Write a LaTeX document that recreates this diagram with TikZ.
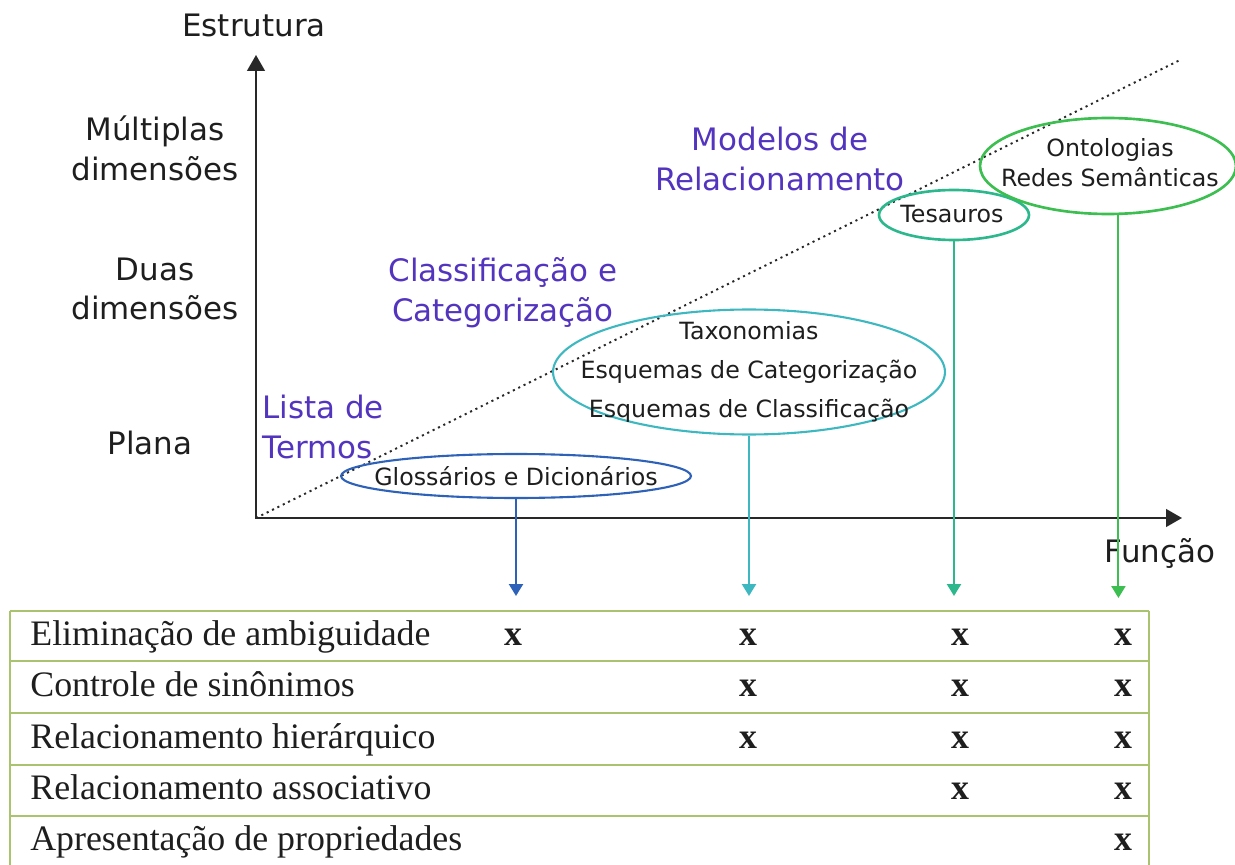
\documentclass[tikz,border=0pt]{standalone}
\usepackage{fontspec}
\setmainfont{Liberation Serif}
\newfontfamily\diagramFont{DejaVu Sans}
\usepackage{tikz}
\usetikzlibrary{arrows.meta,shapes.geometric}
\usepackage{xcolor}
\definecolor{relPurple}{RGB}{82,52,190}
\definecolor{glossBlue}{RGB}{46,98,184}
\definecolor{taxoTeal}{RGB}{62,184,192}
\definecolor{tesaTeal}{RGB}{44,184,140}
\definecolor{ontoGreen}{RGB}{60,190,80}
\definecolor{tableGreen}{RGB}{170,195,110}
\definecolor{axisGray}{RGB}{40,40,40}
\definecolor{textGray}{RGB}{30,30,30}
\newcommand{\labelFont}{\diagramFont\fontsize{17.6}{22.7}\selectfont}
\newcommand{\itemFont}{\diagramFont\fontsize{13.5}{22.4}\selectfont}
\newcommand{\tableFont}{\fontsize{20.4}{24}\selectfont}
\newcommand{\tableLeft}{10}
\newcommand{\tableRight}{1149}
\newcommand{\tableBottom}{865}

\begin{document}
\begin{tikzpicture}[x=0.02cm, y=-0.02cm,
      axisline/.style={draw=axisGray, line width=1.2pt},
      axislabel/.style={font=\labelFont, text=textGray, inner sep=0pt},
      grouplabel/.style={font=\labelFont, text=relPurple, inner sep=0pt},
      oval/.style={ellipse, draw, line width=1.2pt, inner sep=0pt},
      ovaltext/.style={font=\itemFont, text=textGray, align=center, inner sep=0pt},
      feed/.style={line width=1.1pt, -{Triangle[width=8pt,length=6.8pt]}},
      tableline/.style={draw=tableGreen, line width=1pt},
      rowtext/.style={font=\tableFont, text=textGray, anchor=base west, inner sep=0pt},
      crossmark/.style={font=\tableFont\bfseries, text=textGray, anchor=base, inner sep=0pt}]
   \useasboundingbox (0,0) rectangle (1235,865);

   % axes
   \coordinate (origin) at (256,518);
   \coordinate (ytip) at (256,55);
   \coordinate (xtip) at (1182,518);
   \coordinate (diagEnd) at (1180,60);
   \draw[line width=1.1pt, dash pattern=on 1.2pt off 2.2pt, axisGray] (origin) -- (diagEnd);
   \draw[axisline, {Triangle[width=10pt,length=9pt]}-{Triangle[width=10pt,length=9pt]}] (ytip) |- (xtip);

   \node[axislabel] (estrutura) at (254,25) {Estrutura};
   \node[axislabel] (funcao) at (1160,553) {Função};
   \node[axislabel, align=center] (multi) at (155,148) {Múltiplas\\dimensões};
   \node[axislabel, align=center] (duas) at (155,289) {Duas\\dimensões};
   \node[axislabel] (plana) at (150,443) {Plana};

   \node[grouplabel, align=left, anchor=west] (lista) at (262,427) {Lista de\\Termos};
   \node[grouplabel, align=center] (classif) at (503,293) {Classificação e\\Categorização};
   \node[grouplabel, align=center] (modelos) at (780,159) {Modelos de\\Relacionamento};

   % ellipses
   \node[oval, draw=glossBlue, minimum width=7cm, minimum height=0.88cm] (gloss) at (516,476) {};
   \node[oval, draw=taxoTeal, minimum width=7.84cm, minimum height=2.5cm] (taxo) at (749,372) {};
   \node[oval, draw=tesaTeal, line width=1.5pt, minimum width=3cm, minimum height=1cm] (tesa) at (954,215) {};
   \node[oval, draw=ontoGreen, line width=1.5pt, minimum width=5.12cm, minimum height=1.92cm] (onto) at (1108,166) {};

   \node[ovaltext] (glossText) at (gloss) {Glossários e Dicionários};
   \node[ovaltext] (taxoText) at (taxo) {Taxonomias\\Esquemas de Categorização\\Esquemas de Classificação};
   \node[ovaltext] (tesaText) at (952,214) {Tesauros};
   \node[ovaltext, font=\diagramFont\fontsize{13.5}{17}\selectfont] (ontoText) at (1110,163) {Ontologias\\Redes Semânticas};

   % columns of the table
   \coordinate (colA) at (516,596);
   \coordinate (colB) at (749,596);
   \coordinate (colC) at (954,596);
   \coordinate (colD) at (1118,598);
   \draw[feed, glossBlue] (gloss.south) -- (colA);
   \draw[feed, taxoTeal] (taxo.south) -- (colB);
   \draw[feed, tesaTeal] (tesa.south) -- (colC);
   \draw[feed, ontoGreen] (onto.-78) -- (onto.-78 |- colD);

   % table
   \foreach \y in {611,661,713,765,816}
      \draw[tableline] (\tableLeft,\y) -- (\tableRight,\y);
   \draw[tableline] (\tableLeft,611) -- (\tableLeft,\tableBottom);
   \draw[tableline] (\tableRight,611) -- (\tableRight,\tableBottom);

   \foreach \ry/\txt [count=\i] in {645/Eliminação de ambiguidade,696/Controle de sinônimos,748/Relacionamento hierárquico,799/Relacionamento associativo,850/Apresentação de propriedades}
      \node[rowtext] (row\i) at (30,\ry) {\txt};

   \foreach \cx/\ry [count=\i] in {513/645,748/645,960/645,1123/645,748/696,960/696,1123/696,748/748,960/748,1123/748,960/799,1123/799,1123/850}
      \node[crossmark] (cell\i) at (\cx,\ry) {x};

\end{tikzpicture}
\end{document}
